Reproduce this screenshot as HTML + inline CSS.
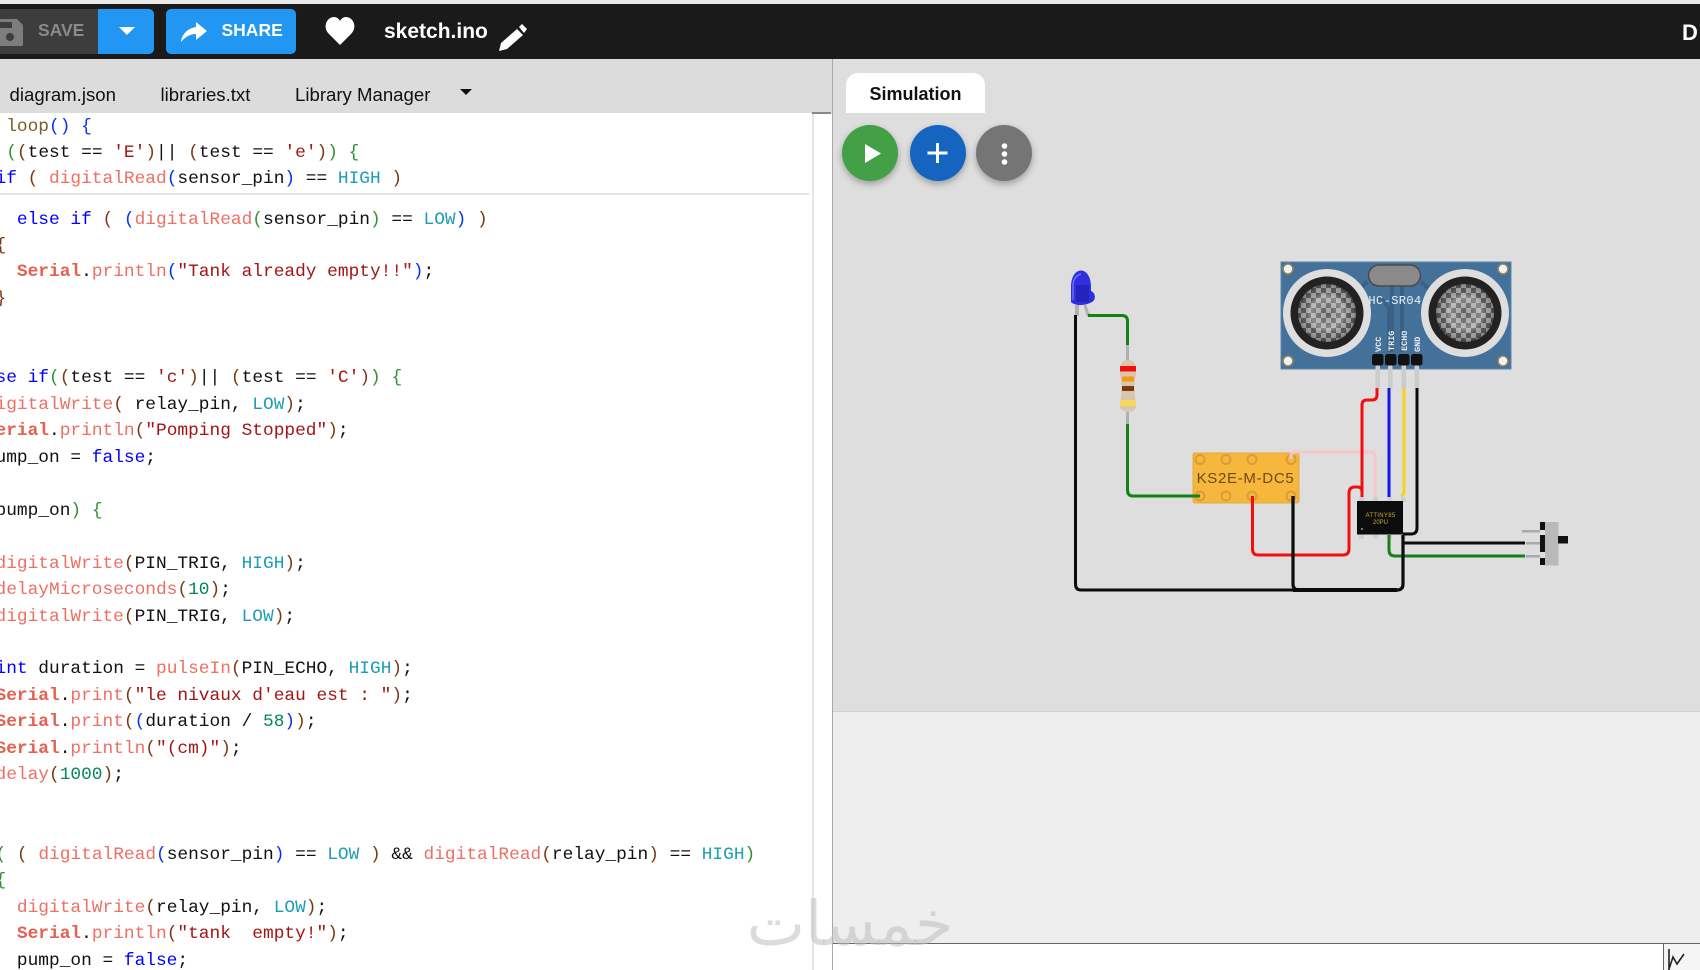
<!DOCTYPE html>
<html lang="en"><head><meta charset="utf-8"><title>sketch.ino</title>
<style>
*{box-sizing:border-box}
html,body{margin:0;padding:0;background:#fff;overflow:hidden}
#p{position:relative;width:1700px;height:970px;overflow:hidden;background:#fff;font-family:"Liberation Sans",sans-serif}
.a{position:absolute}
pre{margin:0;font:17.83px/26.47px "Liberation Mono",monospace;color:#111;white-space:pre}
.k{color:#0000ff}.f{color:#ee6f63}.c{color:#1b9db5}.s{color:#a31515}.n{color:#098658}
.b{color:#0431fa}.g{color:#319331}.r{color:#7b3814}.S{color:#e4604f;font-weight:bold}
.tab{font-size:18.6px;color:#111;top:84px}
.btn{border-radius:50%;width:56px;height:56px;top:125px;box-shadow:0 3px 7px rgba(0,0,0,.3)}
</style></head><body><div id="p">

<!-- top bar -->
<div class="a" style="left:0;top:0;width:1700px;height:4px;background:#e8e8e8"></div>
<div class="a" style="left:0;top:4px;width:1700px;height:54.5px;background:#1a1a1a"></div>
<div class="a" style="left:-10px;top:9px;width:108px;height:45px;background:#3d3d3d;border-radius:4px 0 0 4px"></div>
<div class="a" style="left:98px;top:9px;width:56px;height:45px;background:#2196f3;border-radius:0 5px 5px 0"></div>
<div class="a" style="left:166px;top:9px;width:130px;height:45px;background:#2196f3;border-radius:5px"></div>
<svg class="a" style="left:0;top:0" width="560" height="58">
<path d="M-4 19H17L23 25V44Q23 46 21 46H-4Z" fill="#7d7d7d"/><rect x="-1" y="22" width="13" height="6" fill="#3d3d3d"/><circle cx="10" cy="37" r="4" fill="#3d3d3d"/>
<path d="M119 27H135L127 35Z" fill="#fff"/>
<path d="M181 42C182 33 189 28 196 27V22L207 31L196 40V34C190 34 185 37 181 42Z" fill="#fff"/>
<path d="M340 45L329 34C322 27 327 17 334 17C337 17 339 19 340 21C341 19 343 17 346 17C353 17 358 27 351 34Z" fill="#fff"/>
<path d="M499 51L501 43L517 29L523 35L507 49Z" fill="#fff"/><path d="M519 27L522 24L527 29L524 33Z" fill="#fff"/>
</svg>
<div class="a" style="left:38px;top:20px;font-weight:bold;font-size:17.5px;color:#8a8a8a">SAVE</div>
<div class="a" style="left:221.5px;top:20px;font-weight:bold;font-size:17.5px;color:#fff">SHARE</div>
<div class="a" style="left:384px;top:20px;font-weight:bold;font-size:21px;color:#fff">sketch.ino</div>
<div class="a" style="left:1682px;top:20px;font-weight:bold;font-size:22px;color:#fff">D</div>

<!-- left tabs -->
<div class="a" style="left:0;top:58.5px;width:832px;height:54.5px;background:#dcdcdc"></div>
<div class="a tab" style="left:9.5px">diagram.json</div>
<div class="a tab" style="left:160.5px">libraries.txt</div>
<div class="a tab" style="left:295px">Library Manager</div>
<svg class="a" style="left:458px;top:88px" width="16" height="10"><path d="M2 1H14L8 7Z" fill="#111"/></svg>

<!-- editor -->
<div class="a" style="left:0;top:113px;width:832px;height:857px;background:#fff"></div>
<div class="a" style="left:812px;top:113px;width:1.5px;height:857px;background:#e6e6e6"></div>
<div class="a" style="left:812px;top:112px;width:19px;height:2px;background:#888"></div>
<div class="a" style="left:0;top:193px;width:809px;height:2px;background:#e4e4e4"></div>

<pre class="a" style="left:-47.3px;top:113.5px"><span class="k">void</span> <span style="color:#795e26">loop</span><span class="b">()</span> <span class="b">{</span>
  <span class="k">if</span> <span class="g">(</span><span class="r">(</span>test == <span class="s">'E'</span><span class="r">)</span>|| <span class="r">(</span>test == <span class="s">'e'</span><span class="r">)</span><span class="g">)</span> <span class="g">{</span>
    <span class="k">if</span> <span class="r">(</span> <span class="f">digitalRead</span><span class="b">(</span>sensor_pin<span class="b">)</span> == <span class="c">HIGH</span> <span class="r">)</span></pre>

<pre class="a" style="left:-47.3px;top:206.5px">      <span class="k">else if</span> <span class="r">(</span> <span class="b">(</span><span class="f">digitalRead</span><span class="g">(</span>sensor_pin<span class="g">)</span> == <span class="c">LOW</span><span class="b">)</span> <span class="r">)</span>
    <span class="r">{</span>
      <span class="S">Serial</span>.<span class="f">println</span><span class="b">(</span><span class="s">"Tank already empty!!"</span><span class="b">)</span>;
    <span class="r">}</span>
 
 
  <span class="k">else if</span><span class="g">(</span><span class="r">(</span>test == <span class="s">'c'</span><span class="r">)</span>|| <span class="r">(</span>test == <span class="s">'C'</span><span class="r">)</span><span class="g">)</span> <span class="g">{</span>
   <span class="f">digitalWrite</span><span class="r">(</span> relay_pin, <span class="c">LOW</span><span class="r">)</span>;
   <span class="S">Serial</span>.<span class="f">println</span><span class="r">(</span><span class="s">"Pomping Stopped"</span><span class="r">)</span>;
   pump_on = <span class="k">false</span>;
 
<span class="k">if</span> <span class="g">(</span>pump_on<span class="g">)</span> <span class="g">{</span>
 
    <span class="f">digitalWrite</span><span class="r">(</span>PIN_TRIG, <span class="c">HIGH</span><span class="r">)</span>;
    <span class="f">delayMicroseconds</span><span class="r">(</span><span class="n">10</span><span class="r">)</span>;
    <span class="f">digitalWrite</span><span class="r">(</span>PIN_TRIG, <span class="c">LOW</span><span class="r">)</span>;
 
    <span class="k">int</span> duration = <span class="f">pulseIn</span><span class="r">(</span>PIN_ECHO, <span class="c">HIGH</span><span class="r">)</span>;
    <span class="S">Serial</span>.<span class="f">print</span><span class="r">(</span><span class="s">"le nivaux d'eau est : "</span><span class="r">)</span>;
    <span class="S">Serial</span>.<span class="f">print</span><span class="r">(</span><span class="b">(</span>duration / <span class="n">58</span><span class="b">)</span><span class="r">)</span>;
    <span class="S">Serial</span>.<span class="f">println</span><span class="r">(</span><span class="s">"(cm)"</span><span class="r">)</span>;
    <span class="f">delay</span><span class="r">(</span><span class="n">1000</span><span class="r">)</span>;
 
 
 <span class="k">if</span> <span class="g">(</span> <span class="r">(</span> <span class="f">digitalRead</span><span class="b">(</span>sensor_pin<span class="b">)</span> == <span class="c">LOW</span> <span class="r">)</span> &amp;&amp; <span class="f">digitalRead</span><span class="r">(</span>relay_pin<span class="r">)</span> == <span class="c">HIGH</span><span class="g">)</span>
    <span class="g">{</span>
      <span class="f">digitalWrite</span><span class="r">(</span>relay_pin, <span class="c">LOW</span><span class="r">)</span>;
      <span class="S">Serial</span>.<span class="f">println</span><span class="r">(</span><span class="s">"tank  empty!"</span><span class="r">)</span>;
      pump_on = <span class="k">false</span>;</pre>

<!-- right panes -->
<div class="a" style="left:832px;top:58.5px;width:868px;height:652.5px;background:#dedede"></div>
<div class="a" style="left:832px;top:711px;width:868px;height:232px;background:#eeeeee;border-top:1px solid #d0d0d0"></div>
<div class="a" style="left:833px;top:943px;width:830px;height:27px;background:#fff;border-top:1.5px solid #666"></div>
<div class="a" style="left:832px;top:58.5px;width:1px;height:912px;background:#a8a8a8"></div>
<div class="a" style="left:1663px;top:943px;width:37px;height:27px;background:#f5f5f5;border-top:1.5px solid #666;border-left:1.5px solid #666"></div>
<svg class="a" style="left:1664px;top:945px" width="36" height="25"><path d="M5 4V25M5 24L9 12L13 19L20 9" fill="none" stroke="#222" stroke-width="1.6"/></svg>

<!-- sim tab + buttons -->
<div class="a" style="left:846px;top:73px;width:139px;height:40px;background:#fff;border-radius:12px 12px 0 0;text-align:center;font-weight:bold;font-size:18px;line-height:43px;color:#111">Simulation</div>
<div class="a btn" style="left:842px;background:#43a047"></div>
<div class="a btn" style="left:910px;background:#1565c0"></div>
<div class="a btn" style="left:976px;background:#757575"></div>
<svg class="a" style="left:842px;top:125px" width="200" height="60">
<path d="M23 19V38L39 28.500Z" fill="#fff"/>
<path d="M95.500 18V38M85.500 28H105.500" stroke="#fff" stroke-width="3"/>
<circle cx="162.500" cy="21" r="2.800" fill="#fff"/><circle cx="162.500" cy="29" r="2.800" fill="#fff"/><circle cx="162.500" cy="37" r="2.800" fill="#fff"/>
</svg>

<!-- circuit -->
<svg class="a" style="left:0;top:0" width="1700" height="970" font-family="Liberation Sans, sans-serif">
<defs>
<pattern id="ck" width="10" height="10" patternUnits="userSpaceOnUse" x="1" y="3">
<rect width="10" height="10" fill="#4e4e4e"/><rect width="5" height="5" fill="#9a9a9a"/><rect x="5" y="5" width="5" height="5" fill="#9a9a9a"/></pattern>
<radialGradient id="rg"><stop offset="0" stop-color="#fff" stop-opacity=".08"/><stop offset=".55" stop-color="#fff" stop-opacity=".34"/><stop offset=".75" stop-color="#fff" stop-opacity=".04"/><stop offset="1" stop-color="#000" stop-opacity=".2"/></radialGradient>
</defs>

<!-- HC-SR04 -->
<rect x="1281" y="262" width="230" height="107" fill="#437199" stroke="#5a86ab" stroke-width="1"/>
<g fill="none" stroke="#3a6184" stroke-width="4"><path d="M1367 282L1352 296"/><path d="M1421 282L1438 296"/><path d="M1392 286V352"/><path d="M1379 296L1389 308V352"/><path d="M1402 286V352"/></g>
<circle cx="1327" cy="313" r="44" fill="#dedede"/><circle cx="1327" cy="313" r="36.500" fill="#222"/><circle cx="1327" cy="313" r="29" fill="url(#ck)"/><circle cx="1327" cy="313" r="29" fill="url(#rg)"/>
<circle cx="1465" cy="313" r="44" fill="#dedede"/><circle cx="1465" cy="313" r="36.500" fill="#222"/><circle cx="1465" cy="313" r="29" fill="url(#ck)"/><circle cx="1465" cy="313" r="29" fill="url(#rg)"/>
<g fill="#f2f2f2" stroke="#8c8458" stroke-width="1.600"><circle cx="1288" cy="269" r="5"/><circle cx="1503" cy="269" r="5"/><circle cx="1288" cy="361" r="5"/><circle cx="1503" cy="361" r="5"/></g>
<rect x="1368.500" y="265" width="52" height="21" rx="10.500" fill="#8a8a8a" stroke="#4a4a4a" stroke-width="1.500"/>
<text x="1395" y="304" text-anchor="middle" font-family="Liberation Mono, monospace" font-size="12" letter-spacing=".4" fill="#eef2f6">HC-SR04</text>
<g font-family="Liberation Mono, monospace" font-size="8.500" font-weight="bold" fill="#e8eef4" text-anchor="start">
<text transform="translate(1381,352) rotate(-90)">VCC</text><text transform="translate(1394,351) rotate(-90)">TRIG</text><text transform="translate(1407,351) rotate(-90)">ECHO</text><text transform="translate(1420,352) rotate(-90)">GND</text></g>
<g fill="#ccc"><rect x="1375.500" y="365" width="4.500" height="24"/><rect x="1388" y="365" width="4.500" height="24"/><rect x="1401.500" y="365" width="4.500" height="24"/><rect x="1414.500" y="365" width="4.500" height="24"/></g>
<g fill="#111"><rect x="1372" y="354" width="11.500" height="11.500" rx="2.500"/><rect x="1385" y="354" width="11.500" height="11.500" rx="2.500"/><rect x="1398" y="354" width="11.500" height="11.500" rx="2.500"/><rect x="1411" y="354" width="11.500" height="11.500" rx="2.500"/></g>

<!-- LED -->
<rect x="1075" y="305" width="4" height="11" fill="#b0b0b0"/><path d="M1085 305L1088 315H1091" fill="none" stroke="#b0b0b0" stroke-width="3"/>
<path d="M1071 302V287C1071 265 1091 265 1091 287V291C1096 293 1096 300 1092 302C1085 306 1075 306 1071 302Z" fill="#2f2fe0"/>
<rect x="1076" y="285" width="13" height="17" fill="#2222b0" opacity=".75"/>
<path d="M1073 300V284C1074 278 1077 275 1081 274" fill="none" stroke="#7a7aff" stroke-width="1.200"/>

<!-- Resistor -->
<rect x="1126" y="345" width="3" height="80" fill="#b0b0b0"/>
<path d="M1120 368C1120 362 1124 360 1128 360C1132 360 1136 362 1136 368V375C1134 380 1134 395 1136 402V406C1136 410 1132 412 1128 412C1124 412 1120 410 1120 406V402C1122 395 1122 380 1120 375Z" fill="#dcc6ab"/>
<rect x="1120" y="366" width="16" height="5.500" fill="#f01010"/><rect x="1122" y="376.500" width="12" height="5" fill="#f59a10"/><rect x="1122" y="386" width="12" height="5" fill="#7d3a12"/><rect x="1120" y="400" width="16" height="6" fill="#f8d860"/>

<!-- Relay -->
<rect x="1193" y="453" width="106" height="50" rx="2" fill="#f6b73c" stroke="#e5a93a" stroke-width="1"/>
<g fill="none" stroke="#d99e3a" stroke-width="2"><circle cx="1200" cy="459.500" r="4.500"/><circle cx="1226" cy="459.500" r="4.500"/><circle cx="1252" cy="459.500" r="4.500"/><circle cx="1291" cy="459.500" r="4.500"/><circle cx="1200" cy="496" r="4.500"/><circle cx="1226" cy="496" r="4.500"/><circle cx="1252" cy="496" r="4.500"/><circle cx="1291" cy="496" r="4.500"/></g>
<text x="1245.500" y="483" text-anchor="middle" font-size="15" letter-spacing=".7" fill="#6e4a14">KS2E-M-DC5</text>

<!-- ATTiny -->
<g fill="#cfcfcf"><rect x="1359" y="497" width="5" height="5"/><rect x="1373" y="497" width="5" height="5"/><rect x="1387" y="497" width="5" height="5"/><rect x="1401" y="497" width="5" height="5"/><rect x="1359" y="534" width="5" height="5"/><rect x="1373" y="534" width="5" height="5"/><rect x="1387" y="534" width="5" height="5"/><rect x="1401" y="534" width="5" height="5"/></g>
<rect x="1357" y="501" width="46" height="33.500" fill="#0c0c0c"/>
<text x="1380.500" y="517" text-anchor="middle" font-size="6" fill="#c8ac30" letter-spacing=".3">ATTINY85</text>
<text x="1380.500" y="524" text-anchor="middle" font-size="6" fill="#c8ac30">20PU</text>
<circle cx="1362" cy="529" r="1.200" fill="#777"/>

<!-- Switch -->
<g fill="#aaa"><rect x="1522" y="530" width="18" height="2.500"/><rect x="1526" y="542" width="14" height="2.500"/><rect x="1526" y="555" width="14" height="2.500"/></g>
<rect x="1545" y="522" width="13.500" height="43.500" fill="#b9b9b9"/>
<g fill="#111"><rect x="1540" y="522" width="5" height="8"/><rect x="1540" y="535" width="5" height="17"/><rect x="1540" y="558" width="5" height="7"/><rect x="1558" y="536" width="10" height="7.500"/></g>

<!-- wires -->
<g fill="none" stroke-width="3" stroke-linejoin="round">
<path d="M1088 315.500H1122Q1127.500 315.500 1127.500 321V345" stroke="#128212"/>
<path d="M1127.500 424V490Q1127.500 496 1133 496H1200" stroke="#128212"/>
<path d="M1291 459V456Q1291 452 1295 452H1371Q1375 452 1375 456V497" stroke="#f6c6ca"/>
<path d="M1252.500 496V549Q1252.500 555 1258 555H1343Q1349 555 1349 549V493Q1349 487 1355 487H1358Q1362 487 1362 492V497" stroke="#f01010"/>
<path d="M1377 388V395Q1377 400 1372 400H1367Q1362 400 1362 405V497" stroke="#f01010"/>
<path d="M1389 388V497" stroke="#1414ee"/>
<path d="M1404 388V491Q1404 495 1401 496" stroke="#f8d01c"/>
<path d="M1389 535V550Q1389 556 1395 556H1525" stroke="#128212"/>
<path d="M1075.500 315V584Q1075.500 590 1081 590H1293" stroke="#0c0c0c"/>
<path d="M1293 496V584Q1293 590 1299 590H1397Q1403 590 1403 584V535" stroke="#0c0c0c" stroke-width="3.200"/>
<path d="M1293 590H1397" stroke="#0c0c0c" stroke-width="4"/>
<path d="M1417 388V528Q1417 534 1411 534H1403" stroke="#0c0c0c"/>
<path d="M1403 543H1525" stroke="#0c0c0c"/>
</g>
</svg>

<!-- watermark -->
<div class="a" dir="rtl" style="left:740px;top:889px;width:220px;text-align:center;font-family:'DejaVu Sans',sans-serif;font-size:62px;line-height:70px;color:rgba(190,190,190,.55)">خمسات</div>

</div></body></html>
